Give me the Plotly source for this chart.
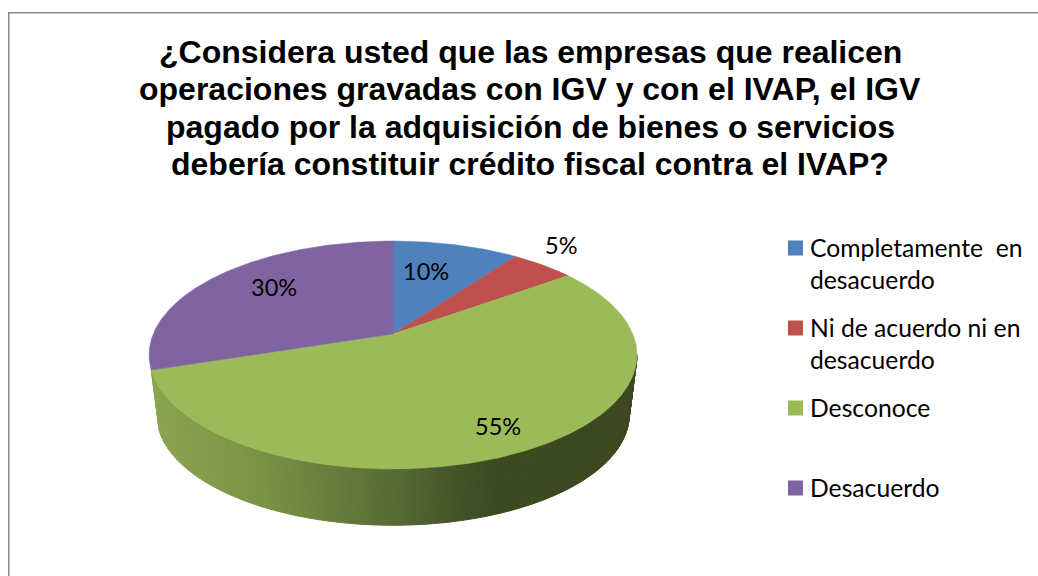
import numpy as np
import plotly.graph_objects as go

W, H = 1038, 576

title_lines = [
    "¿Considera usted que las empresas que realicen",
    "operaciones gravadas con IGV y con el IVAP, el IGV",
    "pagado por la adquisición de bienes o servicios",
    "debería constituir crédito fiscal contra el IVAP?",
]
categories = ["Completamente  en desacuerdo", "Ni de acuerdo ni en desacuerdo", "Desconoce", "Desacuerdo"]
legend_lines = [["Completamente  en", "desacuerdo"], ["Ni de acuerdo ni en", "desacuerdo"], ["Desconoce"], ["Desacuerdo"]]
values = [10, 5, 55, 30]
colors = ["#4F81BD", "#C0504D", "#9BBB59", "#8064A2"]
label_radius = [0.647, 1.246, 0.823, 0.703]
label_turn = [-4.3, -3.8, -0.4, 4.0]

# projection of the pie disc
CX, CY, A, B, K = 393.0, 334.0, 239.8, 110.1, 0.1842
BASE_SCALE, BASE_DROP = 0.968, 60.6


def project(theta_deg, r=1.0, scale=1.0, drop=0.0):
    t = np.radians(theta_deg)
    u, v = r * np.sin(t), r * np.cos(t)
    d = 1 + K * v
    return CX + scale * A * u / d, CY + drop - scale * B * v / d


def side_color(x):
    xs = [155, 263, 397, 463, 497, 640]
    r = np.interp(x, xs, [138, 122, 86, 66, 60, 60])
    g = np.interp(x, xs, [165, 146, 106, 82, 74, 72])
    b = np.interp(x, xs, [79, 69, 51, 38, 32, 32])
    return f"rgb({r:.0f},{g:.0f},{b:.0f})"


fig = go.Figure()

# side wall
shares = np.array(values, dtype=float) / sum(values)
edges = np.concatenate([[0], np.cumsum(shares) * 360])
wall = np.linspace(100.6, edges[3], 161)
for t0, t1 in zip(wall[:-1], wall[1:]):
    x0, y0 = project(t0)
    x1, y1 = project(t1)
    x2, y2 = project(t1, scale=BASE_SCALE, drop=BASE_DROP)
    x3, y3 = project(t0, scale=BASE_SCALE, drop=BASE_DROP)
    col = side_color((x0 + x1 + x2 + x3) / 4)
    fig.add_trace(go.Scatter(x=[x0, x1, x2, x3, x0], y=[y0, y1, y2, y3, y0], mode="lines",
                             fill="toself", fillcolor=col, line=dict(color=col, width=1),
                             hoverinfo="skip", showlegend=False))

# top face
for i, (name, col) in enumerate(zip(categories, colors)):
    arc = np.linspace(edges[i], edges[i + 1], max(8, int(edges[i + 1] - edges[i]) * 2))
    ax, ay = project(arc)
    fig.add_trace(go.Scatter(x=np.r_[CX, ax, CX], y=np.r_[CY, ay, CY], mode="lines", fill="toself",
                             fillcolor=col, line=dict(color=col, width=0.5), name=name,
                             hoverinfo="name", showlegend=False))

annotations = []
# percent labels
for i, val in enumerate(values):
    mid = (edges[i] + edges[i + 1]) / 2 + label_turn[i]
    lx, ly = project(mid, r=label_radius[i])
    annotations.append(dict(x=lx, y=ly - 1, text=f"{val}%", showarrow=False, xanchor="center", yanchor="middle",
                            font=dict(family="Lato", size=23.5, color="#000000")))

# legend
row_y = [248, 328, 408, 488]
for i, col in enumerate(colors):
    fig.add_trace(go.Scatter(x=[795.5], y=[row_y[i]], mode="markers",
                             marker=dict(symbol="square", size=15, color=col, line=dict(width=0)),
                             hoverinfo="skip", showlegend=False))
    for j, line in enumerate(legend_lines[i]):
        annotations.append(dict(x=807.5, y=row_y[i] - 1 + j * 32, text=line, showarrow=False, xanchor="left",
                                yanchor="middle", font=dict(family="Lato", size=24.7, color="#000000")))

# title
for j, line in enumerate(title_lines):
    annotations.append(dict(x=530, y=51.5 + j * 37.6, text=f"<b>{line}</b>", showarrow=False, xanchor="center",
                            yanchor="middle", font=dict(family="Liberation Sans", size=32, color="#000000")))

border = dict(color="#868686", width=1.5)
fig.update_layout(
    width=W, height=H, autosize=False,
    margin=dict(l=0, r=0, t=0, b=0),
    paper_bgcolor="#FFFFFF", plot_bgcolor="#FFFFFF",
    xaxis=dict(range=[0, W], visible=False, fixedrange=True),
    yaxis=dict(range=[H, 0], visible=False, fixedrange=True),
    annotations=annotations,
    shapes=[
        dict(type="line", x0=8.75, x1=8.75, y0=12.75, y1=H, line=border),
        dict(type="line", x0=8, x1=W, y0=12.75, y1=12.75, line=border),
    ],
    showlegend=False,
)
fig.write_html("out.html", config={"displayModeBar": False},
               post_script="document.body.style.margin='0';document.documentElement.style.overflow='hidden';")
